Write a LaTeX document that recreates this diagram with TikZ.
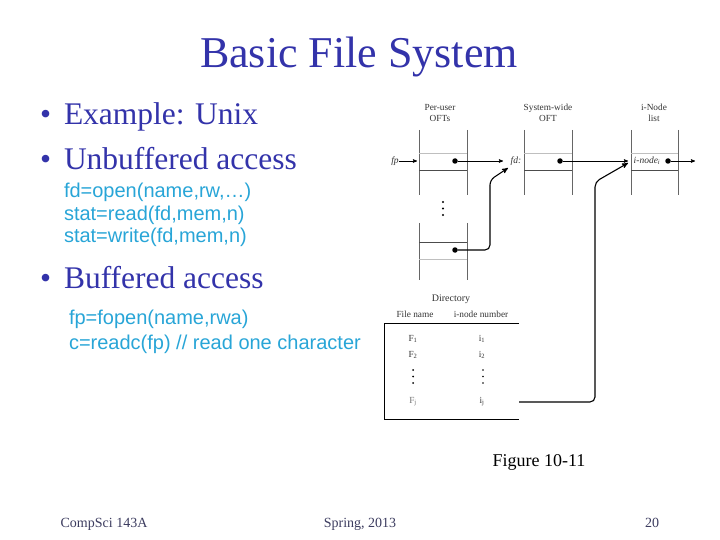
\documentclass[tikz,border=0pt]{standalone}
\usepackage{fontspec}
\setmainfont{Liberation Serif}
\newfontfamily\codefont{Liberation Sans}
\usetikzlibrary{arrows}
\definecolor{titleblue}{RGB}{51,51,170}
\definecolor{codecyan}{RGB}{40,165,215}
\definecolor{footgray}{RGB}{60,60,95}

\begin{document}
\begin{tikzpicture}[x=1pt,y=-1pt,>=stealth']
\tikzstyle{every node}=[inner sep=0pt, outer sep=0pt]
\tikzstyle{bul}=[anchor=base west, text=titleblue, font=\fontsize{31.5}{31}\selectfont]
\tikzstyle{code}=[anchor=base west, text=codecyan, font=\codefont\fontsize{20}{20}\selectfont]
\tikzstyle{lbl}=[text=black!80, align=center, font=\fontsize{9.3}{10.5}\selectfont]
\tikzstyle{ptr}=[circle, fill=black, minimum width=5.5pt]
\tikzstyle{col}=[draw=black!60, line width=.7pt]
\tikzstyle{darkrow}=[draw=black!70, line width=.7pt]
\tikzstyle{lightrow}=[draw=black!25, line width=.7pt]
\tikzstyle{link}=[draw, ->, line width=.6pt]
\tikzstyle{bent}=[draw, ->, line width=1.1pt, rounded corners=5pt]
\useasboundingbox (0,0) rectangle (720,540);

% title and text
\draw (359,68) node (title) [anchor=base, text=titleblue, font=\fontsize{44}{44}\selectfont] {Basic File System};
\draw (40,125) node (b1) [bul] {•};
\draw (64,125) node (ex) [bul] {Example: Unix};
\draw (40,170) node (b2) [bul] {•};
\draw (64,170) node (unbuf) [bul] {Unbuffered access};
\draw (64,198) node (c1) [code] {fd=open(name,rw,…)};
\draw (64,221) node (c2) [code] {stat=read(fd,mem,n)};
\draw (64,243) node (c3) [code] {stat=write(fd,mem,n)};
\draw (40,288) node (b3) [bul] {•};
\draw (64,288) node (buf) [bul] {Buffered access};
\draw (69,324) node (c4) [code] {fp=fopen(name,rwa)};
\draw (69,349) node (c5) [code] {c=readc(fp) // read one character};

% column headings
\draw (440,113) node (h1) [lbl] {Per-user\\OFTs};
\draw (548,113) node (h2) [lbl] {System-wide\\OFT};
\draw (654,113) node (h3) [lbl] {i-Node\\list};

% tables
\draw[col] (419,130) -- (419,195) (467,130) -- (467,195);
\draw[col] (524,130) -- (524,195) (572,130) -- (572,195);
\draw[col] (631,130) -- (631,195) (678,130) -- (678,195);
\draw[col] (419,223) -- (419,280) (467,223) -- (467,280);
\draw[lightrow] (419,153) -- (467,153) (524,153) -- (572,153) (631,153) -- (678,153);
\draw[darkrow] (419,170) -- (467,170) (524,170) -- (572,170) (631,170) -- (678,170);
\draw[darkrow] (419,242) -- (467,242);
\draw[lightrow] (419,259) -- (467,259);
\foreach \y in {202,208.5,215} \fill (443,\y) circle (1.1pt);

% entries
\draw (395,161) node (fp) [lbl, font=\fontsize{9.5}{10}\selectfont\itshape] {fp};
\draw (516,161) node (fd) [lbl, font=\fontsize{9.5}{10}\selectfont\itshape] {fd:};
\draw (647,161) node (inode) [lbl, font=\fontsize{9.5}{10}\selectfont\itshape] {i-node\textsubscript{i}};
\draw (455,161) node (p1) [ptr] {};
\draw (560,161) node (p2) [ptr] {};
\draw (668,161) node (p3) [ptr] {};
\draw (455,250) node (p4) [ptr] {};
\coordinate (fpin) at (417,161);
\coordinate (fdin) at (503,161);
\coordinate (inin) at (628,161);
\coordinate (out) at (695,161);
\draw[link] (fp) -- (fpin);
\draw[link] (p1) -- (fdin);
\draw[link] (p2) -- (inin);
\draw[link] (p3) -- (out);

% directory
\draw (451,299) node (dir) [lbl, font=\fontsize{10}{10}\selectfont] {Directory};
\draw (415,314) node (fname) [lbl] {File name};
\draw (481,314) node (inum) [lbl] {i-node number};
\draw[line width=.7pt] (519,323) -- (384,323) -- (384,419) -- (519,419);
\draw (413,339) node (f1) [lbl] {F\textsubscript{1}};
\draw (413,355) node (f2) [lbl] {F\textsubscript{2}};
\draw (413,402) node (fj) [lbl, text=black!55] {F\textsubscript{j}};
\draw (482,339) node (i1) [lbl] {i\textsubscript{1}};
\draw (482,355) node (i2) [lbl] {i\textsubscript{2}};
\draw (482,402) node (ij) [lbl] {i\textsubscript{j}};
\foreach \y in {370,376.5,383} {
  \fill (413,\y) circle (1pt);
  \fill (483,\y) circle (.8pt);
}

% pointers into the tables
\coordinate (k1) at (490,180);
\coordinate (fdlow) at (508,168);
\coordinate (jout) at (519,402);
\coordinate (k2) at (595,182);
\coordinate (inlow) at (628,163);
\draw[bent] (p4) -| (k1) -- (fdlow);
\draw[bent] (jout) -| (k2) -- (inlow);

% footer
\draw (539,466) node (fig) [anchor=base, font=\fontsize{18}{18}\selectfont] {Figure 10-11};
\draw (104,527) node (course) [anchor=base, text=footgray, font=\fontsize{14}{14}\selectfont] {CompSci 143A};
\draw (360,527) node (term) [anchor=base, text=footgray, font=\fontsize{14}{14}\selectfont] {Spring, 2013};
\draw (652,527) node (page) [anchor=base, text=footgray, font=\fontsize{14}{14}\selectfont] {20};
\end{tikzpicture}
\end{document}
